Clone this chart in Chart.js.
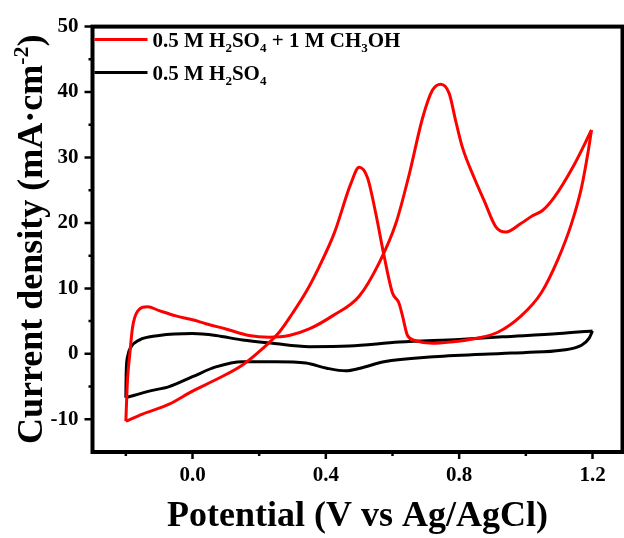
<!DOCTYPE html>
<html>
<head>
<meta charset="utf-8">
<script src="https://cdn.jsdelivr.net/npm/chart.js@4.4.1/dist/chart.umd.min.js"></script>
<style>
html, body { margin: 0; padding: 0; background: #fff; }
</style>
</head>
<body>
<canvas id="cv_graph" width="624" height="538"></canvas>
<script>
const seriesLabels = ['0.5 M H2SO4 + 1 M CH3OH', '0.5 M H2SO4'];
const yTitle = ['Current density (mA\u00b7cm', '-2', ')'];

// 0.5 M H2SO4 + 1 M CH3OH : forward sweep (-0.2 -> 1.2 V)
const methanolFwdV = [-0.200, -0.195, -0.188, -0.180, -0.165, -0.135, -0.100, -0.050, 0.000, 0.040, 0.100, 0.170, 0.230, 0.290, 0.350, 0.420, 0.500, 0.560, 0.610, 0.650, 0.690, 0.720, 0.745, 0.770, 0.790, 0.810, 0.845, 0.875, 0.910, 0.940, 0.985, 1.020, 1.050, 1.085, 1.145, 1.197];
const methanolFwdJ = [-10.3, -4.0, 0.0, 4.0, 6.5, 7.2, 6.6, 5.8, 5.2, 4.6, 3.8, 2.8, 2.55, 2.8, 3.8, 5.8, 8.8, 13.9, 19.9, 27.4, 36.0, 40.3, 41.2, 39.8, 35.5, 31.5, 26.9, 23.4, 19.4, 18.6, 19.9, 21.1, 21.9, 23.9, 28.9, 34.2];
// reverse sweep (1.2 -> -0.2 V)
const methanolRevV = [1.197, 1.187, 1.167, 1.137, 1.096, 1.046, 0.986, 0.916, 0.845, 0.775, 0.720, 0.670, 0.645, 0.630, 0.619, 0.600, 0.575, 0.550, 0.525, 0.500, 0.475, 0.425, 0.380, 0.340, 0.300, 0.260, 0.210, 0.150, 0.080, 0.000, -0.070, -0.150, -0.200];
const methanolRevJ = [34.2, 30.9, 25.4, 19.9, 14.4, 9.3, 5.8, 3.3, 2.3, 1.8, 1.6, 2.0, 2.8, 5.8, 7.8, 9.3, 14.9, 21.4, 26.9, 28.5, 26.0, 18.4, 13.3, 9.4, 6.2, 3.3, 0.8, -1.7, -3.7, -5.7, -7.7, -9.2, -10.3];

// 0.5 M H2SO4 : forward sweep
const acidFwdV = [-0.200, -0.199, -0.195, -0.185, -0.160, -0.100, 0.000, 0.070, 0.150, 0.240, 0.350, 0.470, 0.620, 0.800, 0.930, 1.100, 1.200];
const acidFwdJ = [-6.7, -3.0, -0.5, 1.0, 2.1, 2.8, 3.1, 2.8, 2.1, 1.6, 1.1, 1.2, 1.8, 2.2, 2.6, 3.1, 3.5];
// reverse sweep
const acidRevV = [1.200, 1.190, 1.167, 1.106, 1.000, 0.926, 0.724, 0.574, 0.503, 0.460, 0.403, 0.340, 0.250, 0.150, 0.070, 0.000, -0.070, -0.130, -0.200];
const acidRevJ = [3.5, 2.4, 1.3, 0.55, 0.2, 0.05, -0.45, -1.2, -2.2, -2.6, -2.2, -1.4, -1.2, -1.2, -2.0, -3.5, -5.0, -5.7, -6.7];

const xTicks = [0.0, 0.4, 0.8, 1.2];
const xMinorTicks = [-0.2, 0.2, 0.6, 1.0];
const yTicks = [-10, 0, 10, 20, 30, 40, 50];
const yMinorTicks = [-5, 5, 15, 25, 35, 45];

const SERIF = "'Liberation Serif', 'Times New Roman', 'DejaVu Serif', serif";
const colors = ['#ff0000', '#000000'];

function toPoints(v, j) {
    return v.map(function (x, i) {
        return { x: x, y: j[i] };
    });
}

function lineSet(label, data, color) {
    return {
        label: label,
        data: data,
        showLine: true,
        borderColor: color,
        backgroundColor: color,
        borderWidth: 3,
        pointRadius: 0,
        cubicInterpolationMode: 'monotone',
        fill: false
    };
}

// text with chemical subscripts (H2SO4, CH3OH)
function drawFormula(ctx, text, x, y, size) {
    const parts = text.split(/(?<=[A-Za-z)])(\d+)/);
    parts.forEach(function (p, i) {
        const sub = i % 2 === 1;
        ctx.font = 'bold ' + (sub ? size * 0.62 : size) + 'px ' + SERIF;
        ctx.fillText(p, x, sub ? y + size * 0.24 : y);
        x += ctx.measureText(p).width;
    });
}

const framePlugin = {
    id: 'frame',
    afterDraw: function (chart) {
        const ctx = chart.ctx;
        const a = chart.chartArea;
        const xs = chart.scales.x;
        const ys = chart.scales.y;
        ctx.save();
        ctx.strokeStyle = '#000';
        ctx.lineWidth = 4;
        ctx.strokeRect(a.left, a.top, a.right - a.left, a.bottom - a.top);

        ctx.lineWidth = 2.5;
        ctx.beginPath();
        xTicks.forEach(function (v) {
            const px = xs.getPixelForValue(v);
            ctx.moveTo(px, a.bottom);
            ctx.lineTo(px, a.bottom + 7);
        });
        xMinorTicks.forEach(function (v) {
            const px = xs.getPixelForValue(v);
            ctx.moveTo(px, a.bottom);
            ctx.lineTo(px, a.bottom + 4);
        });
        yTicks.forEach(function (v) {
            const py = ys.getPixelForValue(v);
            ctx.moveTo(a.left, py);
            ctx.lineTo(a.left - 8, py);
        });
        yMinorTicks.forEach(function (v) {
            const py = ys.getPixelForValue(v);
            ctx.moveTo(a.left, py);
            ctx.lineTo(a.left - 4, py);
        });
        ctx.stroke();

        // legend
        ctx.fillStyle = '#000';
        ctx.textBaseline = 'alphabetic';
        seriesLabels.forEach(function (label, i) {
            const ly = a.top + 13 + i * 33;
            ctx.strokeStyle = colors[i];
            ctx.lineWidth = 3;
            ctx.beginPath();
            ctx.moveTo(a.left + 2, ly);
            ctx.lineTo(a.left + 55, ly);
            ctx.stroke();
            drawFormula(ctx, label, a.left + 60, ly + 7, 21);
        });

        // y axis title with superscript
        const big = 'bold 36px ' + SERIF;
        const small = 'bold 22px ' + SERIF;
        ctx.font = big;
        const w0 = ctx.measureText(yTitle[0]).width;
        const w2 = ctx.measureText(yTitle[2]).width;
        ctx.font = small;
        const w1 = ctx.measureText(yTitle[1]).width;
        const total = w0 + w1 + w2;
        ctx.translate(42, (a.top + a.bottom) / 2);
        ctx.rotate(-Math.PI / 2);
        let tx = -total / 2;
        ctx.font = big;
        ctx.fillText(yTitle[0], tx, 0);
        tx += w0;
        ctx.font = small;
        ctx.fillText(yTitle[1], tx, -14);
        tx += w1;
        ctx.font = big;
        ctx.fillText(yTitle[2], tx, 0);
        ctx.restore();
    }
};

new Chart(document.getElementById('cv_graph'), {
    type: 'scatter',
    data: {
        datasets: [
            lineSet(seriesLabels[0], toPoints(methanolFwdV, methanolFwdJ), colors[0]),
            lineSet(seriesLabels[0], toPoints(methanolRevV, methanolRevJ), colors[0]),
            lineSet(seriesLabels[1], toPoints(acidFwdV, acidFwdJ), colors[1]),
            lineSet(seriesLabels[1], toPoints(acidRevV, acidRevJ), colors[1])
        ]
    },
    options: {
        responsive: false,
        animation: false,
        devicePixelRatio: 1,
        layout: {
            padding: { top: 20.5, right: 1.5, left: 0, bottom: 0 }
        },
        plugins: {
            legend: { display: false },
            tooltip: { enabled: false }
        },
        scales: {
            x: {
                type: 'linear',
                min: -0.3,
                max: 1.29,
                afterBuildTicks: function (scale) {
                    scale.ticks = xTicks.map(function (v) { return { value: v }; });
                },
                afterFit: function (scale) {
                    scale.height = 86;
                },
                grid: { display: false, drawTicks: false },
                border: { display: false },
                ticks: {
                    color: '#000',
                    padding: 11,
                    maxRotation: 0,
                    autoSkip: false,
                    font: { family: SERIF, size: 21, weight: 'bold' },
                    callback: function (v) { return Number(v).toFixed(1); }
                },
                title: {
                    display: true,
                    text: 'Potential (V vs Ag/AgCl)',
                    color: '#000',
                    padding: { top: 0, bottom: 0 },
                    font: { family: SERIF, size: 36, weight: 'bold' }
                }
            },
            y: {
                type: 'linear',
                min: -15,
                max: 50,
                afterBuildTicks: function (scale) {
                    scale.ticks = yTicks.map(function (v) { return { value: v }; });
                },
                afterFit: function (scale) {
                    scale.width = 92.5;
                },
                grid: { display: false, drawTicks: false },
                border: { display: false },
                ticks: {
                    color: '#000',
                    padding: 14,
                    autoSkip: false,
                    font: { family: SERIF, size: 21, weight: 'bold' },
                    callback: function (v) { return String(v); }
                },
                title: { display: false }
            }
        }
    },
    plugins: [framePlugin]
});
</script>
</body>
</html>
